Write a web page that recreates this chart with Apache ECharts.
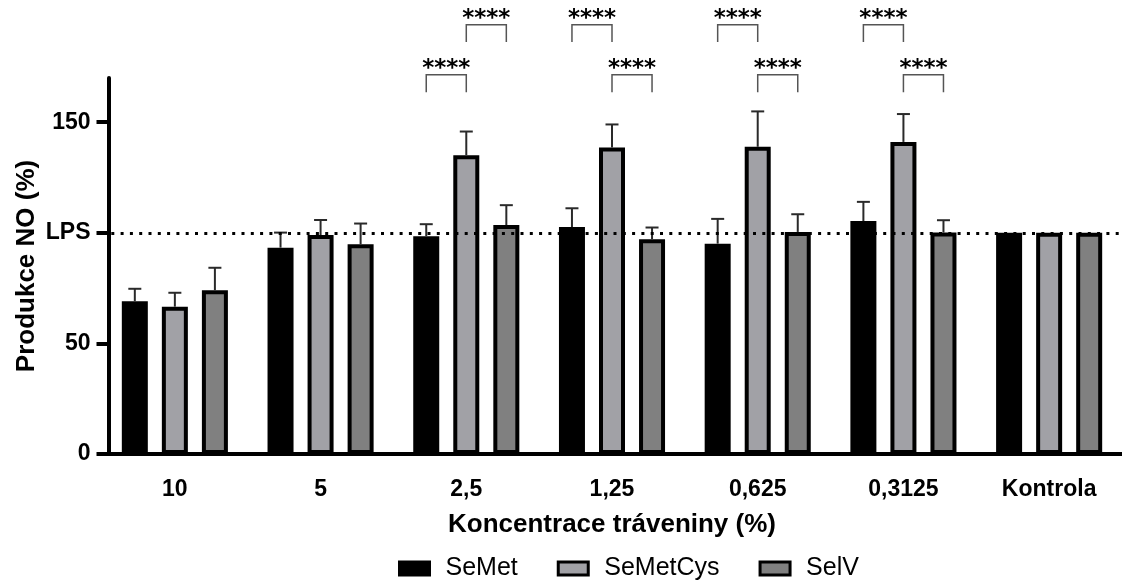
<!DOCTYPE html>
<html><head><meta charset="utf-8">
<script src="https://cdn.jsdelivr.net/npm/echarts@6/dist/echarts.min.js"></script>
<style>html,body{margin:0;padding:0;background:#fff}#c{width:1122px;height:585px}</style>
</head><body><div id="c"></div>
<script>
const categories = ['10', '5', '2,5', '1,25', '0,625', '0,3125', 'Kontrola'];
const seriesNames = ['SeMet', 'SeMetCys', 'SelV'];
const semet       = [69.1, 93.3, 98.5, 102.6, 95.1, 105.3, 100];
const semetErr    = [74.7, 100.1, 103.9, 111.1, 106.3, 114.0, 100];
const semetcys    = [66.6, 99.0, 135.1, 138.6, 138.9, 141.1, 100];
const semetcysErr = [72.9, 105.8, 145.8, 149.0, 154.9, 153.7, 100];
const selv        = [74.0, 94.8, 103.5, 97.1, 100.4, 100.1, 100];
const selvErr     = [84.2, 104.2, 112.5, 102.4, 108.4, 105.7, 100];
const yTicks = [0, 50, 100, 150];
const yTickLabels = ['0', '50', 'LPS', '150'];
const lpsValue = 100;
// [categoryIndex, fromSeries, toSeries, row (0 = lower, 1 = upper), label]
const sigComparisons = [
  [2, 0, 1, 0, '****'], [2, 1, 2, 1, '****'],
  [3, 0, 1, 1, '****'], [3, 1, 2, 0, '****'],
  [4, 0, 1, 1, '****'], [4, 1, 2, 0, '****'],
  [5, 0, 1, 1, '****'], [5, 1, 2, 0, '****']
];

const FONT = 'Liberation Sans';
const BAR_W = 26, BAR_GAP = 0.54;
const STEP = BAR_W * (1 + BAR_GAP);
const CAP = 13;
const ROWS = [{leg: 163.6, bar: 171.5, text: 174.2}, {leg: 186.3, bar: 194.1, text: 196.8}];
const fills = ['#000000', '#a1a1a6', '#808080'];
const means = [semet, semetcys, selv];
const errs = [semetErr, semetcysErr, selvErr];

const errData = [];
means.forEach((arr, si) => arr.forEach((v, ci) => errData.push([ci, v, errs[si][ci], si])));

const chart = echarts.init(document.getElementById('c'), null, {renderer: 'canvas'});
const barSeries = seriesNames.map((n, si) => ({
  name: n, type: 'bar', data: means[si], barWidth: BAR_W, barGap: Math.round(BAR_GAP * 100) + '%',
  z: 3,
  itemStyle: {color: fills[si], borderColor: '#000', borderWidth: 4},
  emphasis: {disabled: true}
}));

chart.setOption({
  animation: false,
  textStyle: {fontFamily: FONT},
  grid: {left: 102, right: -7, top: 78, bottom: 131, containLabel: false},
  legend: {
    data: seriesNames, left: 393, top: 551, icon: 'rect', itemWidth: 30, itemHeight: 13, itemGap: 39,
    itemStyle: {borderWidth: 3},
    textStyle: {fontFamily: FONT, fontSize: 25, color: '#000', padding: [0, 0, 0, 11]}
  },
  xAxis: {
    type: 'category', data: categories,
    name: 'Koncentrace tráveniny (%)', nameLocation: 'middle', nameGap: 58,
    nameTextStyle: {fontFamily: FONT, fontSize: 26, fontWeight: 'bold', color: '#000'},
    axisLine: {lineStyle: {color: '#000', width: 4}},
    axisTick: {alignWithLabel: true, length: 12, lineStyle: {color: '#000', width: 4}},
    axisLabel: {fontFamily: FONT, fontSize: 23, fontWeight: 'bold', color: '#000', margin: 24}
  },
  yAxis: {
    type: 'value', min: 0, max: 170, interval: 50, offset: -6.5,
    name: 'Produkce NO (%)', nameLocation: 'middle', nameGap: 69, nameMoveOverlap: false,
    nameTextStyle: {fontFamily: FONT, fontSize: 26, fontWeight: 'bold', color: '#000'},
    splitLine: {show: false},
    axisLine: {show: true, lineStyle: {color: '#000', width: 4}},
    axisTick: {show: true, length: 12, lineStyle: {color: '#000', width: 4}, customValues: yTicks},
    axisLabel: {
      fontFamily: FONT, fontSize: 23, fontWeight: 'bold', color: '#000', margin: 18,
      customValues: yTicks,
      formatter: v => yTickLabels[yTicks.indexOf(v)]
    }
  },
  series: [
    {
      type: 'line', data: [], z: 1, silent: true,
      markLine: {
        silent: true, symbol: 'none', animation: false,
        label: {show: false},
        lineStyle: {color: '#000', width: 3, type: [3, 6.3]},
        data: [{yAxis: lpsValue}]
      }
    },
    ...barSeries,
    {
      type: 'custom', data: errData, z: 4, clip: false, silent: true,
      renderItem: (params, api) => {
        const ci = api.value(0), v = api.value(1), e = api.value(2), si = api.value(3);
        if (e <= v) return null;
        const b = api.coord([ci, v]);
        const t = api.coord([ci, e]);
        const x = b[0] + (si - 1) * STEP;
        const st = {stroke: '#2a2a2a', lineWidth: 2};
        return {type: 'group', children: [
          {type: 'line', shape: {x1: x, y1: b[1], x2: x, y2: t[1]}, style: st},
          {type: 'line', shape: {x1: x - CAP / 2, y1: t[1], x2: x + CAP / 2, y2: t[1]}, style: st}
        ]};
      }
    },
    {
      type: 'custom', data: sigComparisons.map(d => d.slice(0, 4)), z: 4, clip: false, silent: true,
      renderItem: (params, api) => {
        const ci = api.value(0), f = api.value(1), to = api.value(2), row = ROWS[api.value(3)];
        const label = sigComparisons[params.dataIndex][4];
        const c = api.coord([ci, row.bar]);
        const l = api.coord([ci, row.leg]);
        const tx = api.coord([ci, row.text]);
        const x1 = c[0] + (f - 1) * STEP, x2 = c[0] + (to - 1) * STEP;
        return {type: 'group', children: [
          {type: 'polyline', shape: {points: [[x1, l[1]], [x1, c[1]], [x2, c[1]], [x2, l[1]]]},
           style: {stroke: '#555', lineWidth: 1.5, fill: null}},
          {type: 'text', style: {text: label, x: (x1 + x2) / 2, y: tx[1], align: 'center', verticalAlign: 'middle',
           fontFamily: 'DejaVu Sans', fontWeight: 'bold', fontSize: 23, fill: '#000'}}
        ]};
      }
    }
  ]
});
</script></body></html>
